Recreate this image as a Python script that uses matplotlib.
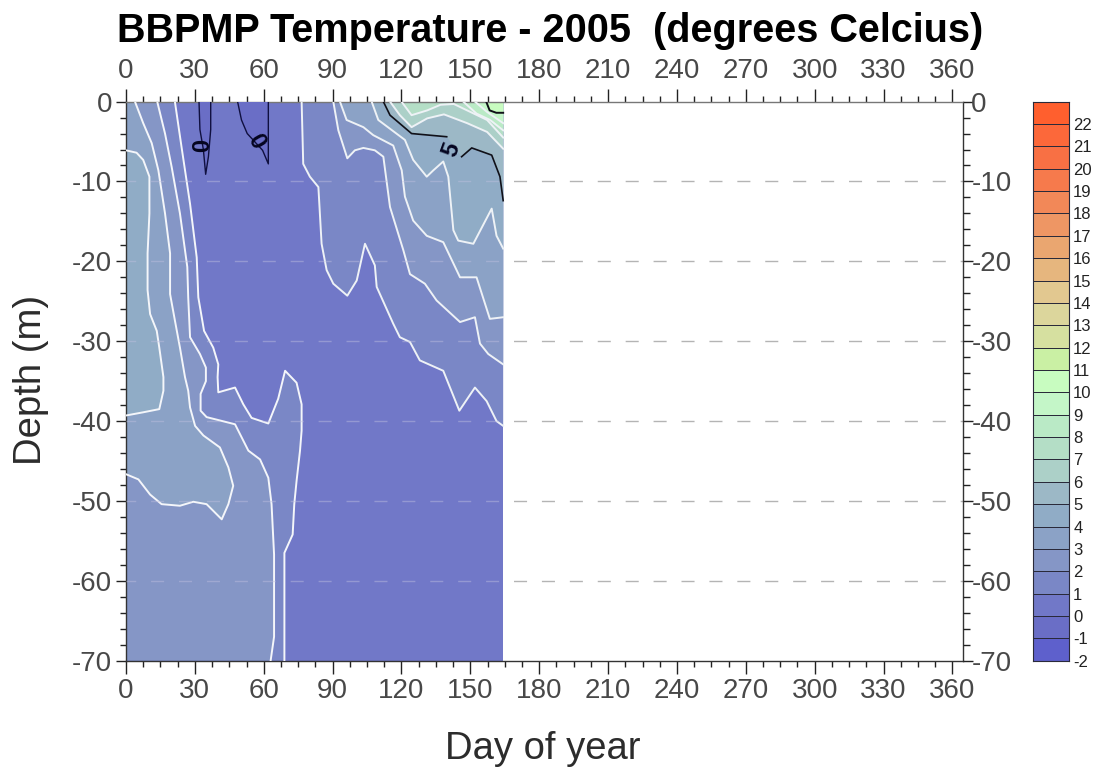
#!/usr/bin/env python
# -*- coding:utf-8 -*-
import matplotlib
matplotlib.use('Agg')
import matplotlib.pyplot as plt
import numpy as np
from matplotlib.colors import ListedColormap
from matplotlib.ticker import MultipleLocator

plt.rcParams['font.family'] = ['Liberation Sans', 'DejaVu Sans']
plt.rcParams['axes.unicode_minus'] = False

# last sampled day and the bottom of the profile
last_day = 164.3
max_depth = -70

# legend boxes, lower edge of each box from -2 to 22
bar_levels = list(range(-2, 24))
bar_colors = ['#5E60CC', '#6A6EC6', '#7178C8', '#7A87C6', '#8596C6', '#8BA2C6', '#90ACC6',
              '#9CB8C6', '#ACD0C8', '#B4DEC6', '#BAEAC6', '#C4F6C8', '#C8FCC0', '#CAF0A4',
              '#D6E0A0', '#DCD69C', '#E2C890', '#E6B67E', '#EAA670', '#EE9664', '#F28858',
              '#F67A4C', '#F87044', '#FC683A', '#FF5F2E']

# isotherms, winter water on the left side
left_1_day = [21.3, 24.2, 27.9, 30.8, 31.5, 34, 38, 40.2, 39.9, 40.2, 47.5, 51.1, 54.7, 62, 66.3,
              69.3, 74.3, 76.5, 76.5, 75.8, 74.3, 73.3, 72.6, 69, 69]
left_1_depth = [0, -5.7, -12.8, -19.5, -24.5, -28.7, -30.8, -32.9, -34.5, -36.4, -35.8, -37.9, -39.6,
                -40.3, -37.2, -33.7, -35.2, -37.9, -41.2, -43.7, -47.5, -50.4, -54.2, -56.5, -70]
left_2_day = [13.6, 17, 19.9, 23.5, 26.7, 27.1, 27.9, 32.2, 34.8, 34.8, 32.5, 32.5, 35.1, 47.5, 53.3,
              58.4, 62, 63.4, 64.5, 64.5, 63]
left_2_depth = [0, -4, -8.2, -14, -20.7, -24.5, -29.5, -31.6, -33.3, -35, -36.6, -38.7, -39.5, -40.4,
                -43.7, -44.8, -47.1, -50.4, -56.7, -67, -70]
left_3_day = [3.9, 7.5, 11.2, 14.1, 17, 19.2, 19.2, 21.3, 23.5, 25.7, 27.1, 27.9, 30.1, 33.7, 40.9,
              44.6, 46.7, 44.6, 41.7, 35.1, 29.3, 23.5, 15.5, 10.5, 5.4, 0]
left_3_depth = [0, -2.7, -5.2, -8.6, -14, -19, -24.1, -27.4, -30.8, -34.5, -36.2, -38.3, -40.6, -41.8,
                -43.3, -45.8, -48.1, -50.4, -52.3, -50.4, -50.1, -50.6, -50.4, -49.2, -47.3, -46.65]
left_4_day = [0, 4.6, 7.5, 10.2, 10.2, 9.4, 9.4, 10.5, 13.4, 14.5, 16.3, 16.3, 14.5, 7.5, 0]
left_4_depth = [-6.1, -6.4, -7.3, -9.4, -14, -19, -23.6, -26.6, -28.7, -30.8, -34.5, -36.2, -38.5,
                -38.9, -39.3]

# isotherms of the spring warming on the right side
right_1_day = [76.5, 77.2, 80.1, 83.8, 85.2, 87.4, 90.3, 96.4, 100.5, 104.1, 108.4, 109.2, 116.4, 119.3,
               123.7, 128, 138.2, 145.2, 152, 157.1, 161.4, 164.3]
right_1_depth = [0, -7.8, -9.4, -10.7, -17.8, -21.1, -22.8, -24.3, -22.4, -17.8, -20.5, -23.2, -27.8,
                 -29.5, -30.1, -32.4, -33.7, -38.7, -35.8, -37.5, -40, -40.6]
right_2_day = [90.3, 92.5, 96.4, 99.7, 103.4, 108.4, 112.1, 115, 120.8, 123.7, 130.2, 135.3, 145.5, 152,
               154.2, 157.8, 164.3]
right_2_depth = [0, -3.6, -7.1, -6.1, -5.8, -6.1, -6.9, -13.2, -18.6, -21.6, -22.8, -24.9, -27.6, -27,
                 -30.3, -31.6, -32.9]
right_3_day = [93.2, 96.1, 103.4, 107.7, 116.4, 120.1, 121.5, 125.1, 131, 138.2, 145.5, 152.7, 158.5, 164.3]
right_3_depth = [0, -2.3, -3.2, -4.2, -5.5, -8.6, -11.9, -14.9, -16.8, -17.6, -22, -22, -27.2, -27]
right_4_day = [107, 109.9, 115, 121.5, 125.1, 131, 133.9, 138.2, 140.4, 142.6, 144.7, 151.3, 159.3, 161.4, 164.3]
right_4_depth = [0, -2.3, -3.4, -4.8, -7.3, -9.4, -8.6, -7.5, -9.4, -16.1, -17.4, -17.8, -13.4, -16.8, -18.4]
right_5_day = [112.1, 115, 124.4, 139.7]
right_5_depth = [0, -1.7, -4, -4.4]
right_5b_day = [146.2, 150.6, 159.3, 162.9, 164.3]
right_5b_depth = [-6.9, -5.8, -6.7, -9.4, -12.4]
right_6_day = [115, 119.3, 124.4, 131.2, 138.5, 148.6, 157.3, 164.3]
right_6_depth = [0, -1.7, -3.2, -2.1, -1.6, -2.7, -3.8, -5.9]
right_7_day = [120, 124.4, 131.2, 137, 142.8, 148.6, 157.3, 164.3]
right_7_depth = [0, -1.7, -1.1, -0.4, -0.3, -1.1, -2.3, -4.5]
right_8_day = [146.9, 152.7, 158.6, 164.3]
right_8_depth = [0, -1.5, -2.3, -3.6]
right_9_day = [152, 157.3, 164.3]
right_9_depth = [0, -1.3, -2.7]
right_10_day = [156.9, 158.4, 161.3, 164.3]
right_10_depth = [0, -1.1, -1.4, -1.4]

# the two pockets of sub zero water
cold_1_day = [31.8, 32.2, 33.7, 34.7, 35.9, 36.9, 36.9]
cold_1_depth = [0, -3.5, -6, -9.1, -6.9, -3.5, 0]
cold_2_day = [48.6, 50.3, 52.8, 59.5, 62, 62]
cold_2_depth = [0, -2.3, -4, -6.1, -7.8, 0]

# contour labels
label_text = ['0', '0', '5']
label_day = [33.4, 56.5, 141.8]
label_depth = [-5.5, -5, -6]
label_angle = [90, -60, 70]


def box_color(level):
    return bar_colors[bar_levels.index(level)]


# warm side of a left isotherm is closed along day 0
def draw_left(ax, day, depth, level):
    fill_x = day + [0, 0]
    fill_y = depth + [depth[-1], depth[0]]
    ax.fill(fill_x, fill_y, color=box_color(level), lw=0, zorder=2)
    ax.plot(day, depth, color='#f4f6fa', lw=1.4, zorder=4)


# warm side of a right isotherm is closed along the last sampled day
def draw_right(ax, day, depth, level, color='#eef2f6'):
    fill_x = day + [last_day, last_day]
    fill_y = depth + [depth[-1], depth[0]]
    ax.fill(fill_x, fill_y, color=box_color(level), lw=0, zorder=2)
    ax.plot(day, depth, color=color, lw=1.4, zorder=4)


def draw_field(ax):
    ax.fill_betweenx([max_depth, 0], 0, last_day, color=box_color(0), lw=0, zorder=1)
    draw_left(ax, left_1_day, left_1_depth, 1)
    draw_left(ax, left_2_day, left_2_depth, 2)
    draw_left(ax, left_3_day, left_3_depth, 3)
    draw_left(ax, left_4_day, left_4_depth, 4)
    draw_right(ax, right_1_day, right_1_depth, 1)
    draw_right(ax, right_2_day, right_2_depth, 2)
    draw_right(ax, right_3_day, right_3_depth, 3)
    draw_right(ax, right_4_day, right_4_depth, 4)
    # the 5 line is broken by its label
    draw_right(ax, right_5_day + right_5b_day, right_5_depth + right_5b_depth, 5, color='none')
    ax.plot(right_5_day, right_5_depth, color='#101018', lw=1.2, zorder=4)
    ax.plot(right_5b_day, right_5b_depth, color='#101018', lw=1.2, zorder=4)
    draw_right(ax, right_6_day, right_6_depth, 6)
    draw_right(ax, right_7_day, right_7_depth, 7)
    draw_right(ax, right_8_day, right_8_depth, 8)
    draw_right(ax, right_9_day, right_9_depth, 9)
    draw_right(ax, right_10_day, right_10_depth, 10, color='#101018')
    # sub zero pockets
    for day, depth in [(cold_1_day, cold_1_depth), (cold_2_day, cold_2_depth)]:
        ax.fill(day, depth, color=box_color(-1), lw=0, zorder=3)
        ax.plot(day, depth, color='#101040', lw=1.0, zorder=4)
    for txt, x, y, ang in zip(label_text, label_day, label_depth, label_angle):
        ax.text(x, y, txt, rotation=ang, ha='center', va='center', fontsize=17,
                fontweight='bold', color='#050520', zorder=6)


def draw_grid(ax):
    dash = (2.4, (9.4, 10.7))
    depths = np.arange(-60, 0, 10)
    ax.hlines(depths, 0, 364.6, color='#b4b4b4', lw=1, linestyle=dash, zorder=0)
    ax.hlines(depths, 0, last_day, color='#c0c0e0', lw=1, linestyle=dash, alpha=0.45, zorder=5)


def setup_axis(ax):
    ax.set_xlim(0, 364.6)
    ax.set_ylim(max_depth, 0)
    ax.xaxis.set_major_locator(MultipleLocator(30))
    ax.xaxis.set_minor_locator(MultipleLocator(7.5))
    ax.yaxis.set_major_locator(MultipleLocator(10))
    ax.yaxis.set_minor_locator(MultipleLocator(2))
    ax.tick_params(axis='both', which='both', top=True, labeltop=True, color='#222222', width=1)
    ax.tick_params(axis='x', which='major', length=9.5, pad=3, labelsize=20, labelcolor='#484848')
    ax.tick_params(axis='x', which='minor', length=4)
    ax.tick_params(axis='y', which='major', length=7, pad=3, labelsize=20, labelcolor='#484848')
    ax.tick_params(axis='y', which='minor', length=4.5)
    for side in ax.spines.values():
        side.set_color('#333333')
        side.set_linewidth(1)
    ax.spines['top'].set_color('#777777')


# depth scale on the right side sits closer to its ticks
def setup_right_axis(ax):
    right = ax.twinx()
    right.set_ylim(max_depth, 0)
    right.yaxis.set_major_locator(MultipleLocator(10))
    right.yaxis.set_minor_locator(MultipleLocator(2))
    right.tick_params(axis='y', which='both', color='#222222', width=1)
    right.tick_params(axis='y', which='major', length=7.5, pad=-1.5, labelsize=20, labelcolor='#484848')
    right.tick_params(axis='y', which='minor', length=5)
    for side in right.spines.values():
        side.set_visible(False)


def draw_bar(fig):
    cax = fig.add_axes([1033 / 1095, 1 - 660.7 / 773, 36 / 1095, 559.1 / 773])
    cmap = ListedColormap(bar_colors)
    values = np.array(bar_levels[:-1]).reshape(-1, 1)
    cax.pcolormesh([0, 1], bar_levels, values, cmap=cmap, edgecolors='#2a2a3a', linewidth=0.6)
    cax.set_xticks([])
    cax.yaxis.tick_right()
    cax.set_yticks(bar_levels[:-1])
    cax.tick_params(axis='y', length=0, pad=3, labelsize=12, labelcolor='#222222')
    for side in cax.spines.values():
        side.set_color('#2a2a3a')


def main():
    fig = plt.figure(figsize=(10.95, 7.73), dpi=100)
    ax = fig.add_axes([126 / 1095, 1 - 660.7 / 773, 837 / 1095, 559.1 / 773])
    setup_axis(ax)
    setup_right_axis(ax)
    draw_grid(ax)
    draw_field(ax)
    draw_bar(fig)
    fig.text(550 / 1095, 1 - 31 / 773, 'BBPMP Temperature - 2005  (degrees Celcius)', ha='center', va='center',
             fontsize=28.5, fontweight='bold', color='black')
    fig.text(543 / 1095, 1 - 749 / 773, 'Day of year', ha='center', va='center', fontsize=27.5, color='#2c2c2c')
    fig.text(31 / 1095, 1 - 380 / 773, 'Depth (m)', rotation=90, ha='center', va='center', fontsize=27.5,
             color='#2c2c2c')
    fig.savefig('out.png', dpi=100)


if __name__ == '__main__':
    main()
